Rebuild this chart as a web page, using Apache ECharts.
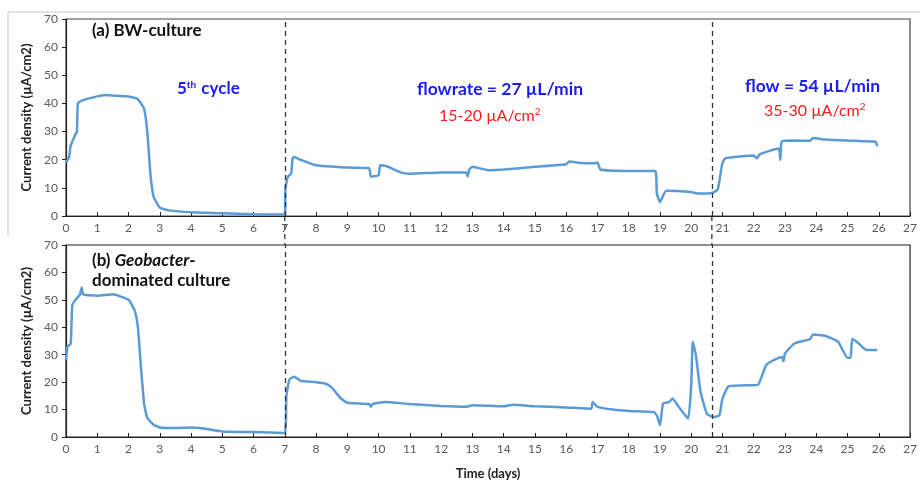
<!DOCTYPE html>
<html>
<head>
<meta charset="utf-8">
<script src="https://cdn.jsdelivr.net/npm/echarts@6/dist/echarts.min.js"></script>
<style>
  html, body { margin: 0; padding: 0; background: #fff; }
  #chart { width: 920px; height: 481px; }
</style>
</head>
<body>
<div id="chart"></div>
<script>
// (a) BW-culture
var daysA = [0, 0.1, 0.15, 0.3, 0.35, 0.38, 0.5, 1.0, 1.3, 1.6, 2.0, 2.3, 2.5, 2.6, 2.7, 2.8, 3.0, 3.3, 4, 5, 6, 7, 7.02, 7.1, 7.2, 7.25, 7.3, 7.5, 8, 9, 9.7, 9.75, 10, 10.05, 10.3, 10.7, 11, 12, 12.8, 12.85, 12.9, 13, 13.5, 14, 15, 16, 16.1, 16.5, 16.9, 17, 17.1, 18, 18.85, 18.9, 19.0, 19.2, 20, 20.2, 20.5, 20.7, 20.85, 21, 21.1, 22, 22.1, 22.2, 22.8, 22.85, 22.9, 23.3, 23.8, 23.9, 24.3, 25, 25.5, 25.9, 25.95]
var valsA = [19, 21, 25, 29, 30, 40, 41, 42.5, 43, 42.7, 42.5, 41.5, 38, 30, 15, 7, 3, 2, 1.3, 1, 0.6, 0.5, 10, 14, 15, 20.5, 21, 20, 18, 17.2, 17, 14, 14.5, 18, 17.5, 15.5, 15, 15.5, 15.5, 14, 16.5, 17.5, 16.3, 16.5, 17.5, 18.4, 19.4, 18.8, 18.7, 19, 16.5, 16, 16, 8, 5, 9, 8.5, 8, 8, 8.3, 9.5, 19, 20.5, 21.5, 20.5, 22, 24, 20, 26.5, 26.8, 26.7, 27.7, 27.2, 26.8, 26.6, 26.4, 24.8]

// (b) Geobacter-dominated culture
var daysB = [0, 0.05, 0.15, 0.2, 0.3, 0.45, 0.5, 0.55, 1, 1.5, 2.0, 2.2, 2.3, 2.4, 2.5, 2.6, 2.8, 3, 3.5, 4, 4.3, 5, 6, 7, 7.05, 7.15, 7.3, 7.5, 8, 8.3, 8.5, 8.8, 9, 9.7, 9.75, 9.8, 10.2, 11, 12, 12.8, 13, 14, 14.3, 15, 16, 16.8, 16.85, 17.0, 17.5, 18, 18.8, 18.9, 19.0, 19.1, 19.3, 19.4, 19.6, 19.9, 20.0, 20.05, 20.15, 20.3, 20.5, 20.7, 20.9, 21.0, 21.2, 22, 22.15, 22.4, 22.6, 22.9, 22.95, 23.0, 23.3, 23.8, 23.9, 24.3, 24.7, 25.0, 25.1, 25.15, 25.3, 25.6, 25.95]
var valsB = [28, 33, 34, 48, 50, 52, 54.5, 52, 51.5, 52, 50, 46, 40, 25, 12, 7, 4.5, 3.5, 3.3, 3.5, 3.3, 2, 1.8, 1.5, 15, 21, 22, 20.5, 20, 19.5, 18, 14, 12.5, 12, 11, 12, 12.8, 12, 11.3, 11, 11.6, 11.2, 11.8, 11.2, 10.8, 10.3, 12.8, 11, 10, 9.5, 9.1, 7.9, 4.3, 12.2, 12.8, 14, 11, 6.7, 18.9, 34.7, 29.8, 16.4, 8.5, 7.3, 7.9, 14, 18.5, 18.9, 19.2, 26.2, 27.8, 29.2, 27.6, 30.4, 34.1, 35.7, 37.4, 36.8, 34.7, 28.9, 28.9, 35.7, 34.7, 31.7, 31.7]

var xTicks = [0, 27, 1]
var yTicks = [0, 70, 10]
var stageLines = [7, 20.66]

function pairs (xs, ys) {
  return xs.map(function (x, i) { return [x, ys[i]] })
}

var FONT = 'Lato'
var labelStyle = { color: '#595959', fontSize: 12, fontFamily: FONT }
var lineColor = '#5b9bd5'
var blue = '#1a1aff'
var red = '#ff1a1a'

function xAxis (idx) {
  return {
    type: 'value', gridIndex: idx, min: xTicks[0], max: xTicks[1], interval: xTicks[2],
    axisLine: { lineStyle: { color: '#222', width: 1.2 } },
    axisTick: { show: true, inside: true, length: 4, lineStyle: { color: '#222' } },
    axisLabel: Object.assign({ margin: 6 }, labelStyle),
    splitLine: { show: false },
    name: idx === 1 ? 'Time (days)' : '',
    nameLocation: 'middle', nameGap: 30,
    nameTextStyle: { color: '#222', fontSize: 13, fontWeight: 'bold', fontFamily: FONT }
  }
}

function yAxis (idx) {
  return {
    type: 'value', gridIndex: idx, min: yTicks[0], max: yTicks[1], interval: yTicks[2],
    axisLine: { show: true, lineStyle: { color: '#222', width: 1.2 } },
    axisTick: { show: true, length: 4, lineStyle: { color: '#222' } },
    axisLabel: Object.assign({ margin: 8 }, labelStyle),
    splitLine: { show: false },
    name: 'Current density (µA/cm2)',
    nameLocation: 'middle', nameGap: 29,
    nameTextStyle: { color: '#222', fontSize: 13, fontWeight: 'bold', fontFamily: FONT }
  }
}

function series (idx, data) {
  return {
    type: 'line', xAxisIndex: idx, yAxisIndex: idx, data: data,
    showSymbol: false, smooth: 0.15,
    lineStyle: { color: lineColor, width: 2.5 },
    markLine: {
      silent: true, symbol: 'none', label: { show: false },
      lineStyle: { color: '#333', type: [5, 4], width: 1.3 },
      data: stageLines.map(function (d) { return { xAxis: d } })
    }
  }
}

function sup (size, color) {
  return { s: { font: size + 'px ' + FONT, fill: color, verticalAlign: 'top', padding: [0, 1, 8, 0] } }
}

var chart = echarts.init(document.getElementById('chart'))
chart.setOption({
  animation: false,
  backgroundColor: '#fff',
  grid: [
    { left: 66, right: 7, top: 19, height: 197, show: true, borderColor: '#444', borderWidth: 1.2 },
    { left: 66, right: 7, top: 245, height: 192, show: true, borderColor: '#222', borderWidth: 1.2 }
  ],
  xAxis: [xAxis(0), xAxis(1)],
  yAxis: [yAxis(0), yAxis(1)],
  series: [series(0, pairs(daysA, valsA)), series(1, pairs(daysB, valsB))]
})

// carry the stage dashes through the gap between the two panels
var gapLines = stageLines.map(function (d, i) {
  var top = chart.convertToPixel({ gridIndex: 0 }, [d, yTicks[0]])
  var bottom = chart.convertToPixel({ gridIndex: 1 }, [d, yTicks[1]])
  return {
    type: 'line', id: 'gap' + i, silent: true,
    shape: { x1: top[0], y1: top[1], x2: bottom[0], y2: bottom[1] },
    style: { stroke: '#333', lineWidth: 1.3, lineDash: [5, 4] }
  }
})

chart.setOption({
  graphic: [
    { type: 'polyline', id: 'frame', shape: { points: [[8, 236], [8, 12], [920, 12]] }, style: { stroke: '#c8c8c8', lineWidth: 1, fill: null } },
    { type: 'text', id: 'ta', left: 92, top: 22, style: { text: '(a) BW-culture', font: 'bold 17px ' + FONT, fill: '#111' } },
    { type: 'text', id: 't1', left: 177, top: 80, style: { text: '5{s|th} cycle', font: 'bold 17px ' + FONT, fill: blue, rich: sup('bold 10', blue) } },
    { type: 'text', id: 't2', left: 417, top: 80, style: { text: 'flowrate = 27 µL/min', font: 'bold 17.5px ' + FONT, fill: blue } },
    { type: 'text', id: 't3', left: 439, top: 107, style: { text: '15-20 µA/cm{s|2}', font: '16px ' + FONT, fill: red, rich: sup(10, red) } },
    { type: 'text', id: 't4', left: 745, top: 77, style: { text: 'flow = 54 µL/min', font: 'bold 17.5px ' + FONT, fill: blue } },
    { type: 'text', id: 't5', left: 764, top: 102, style: { text: '35-30 µA/cm{s|2}', font: '16px ' + FONT, fill: red, rich: sup(10, red) } },
    { type: 'text', id: 'tb', left: 92, top: 251, style: { text: '(b) {i|Geobacter}-\ndominated culture', font: 'bold 17px ' + FONT, fill: '#111', lineHeight: 20, rich: { i: { font: 'italic bold 17px ' + FONT, fill: '#111' } } } }
  ].concat(gapLines)
})
</script>
</body>
</html>
